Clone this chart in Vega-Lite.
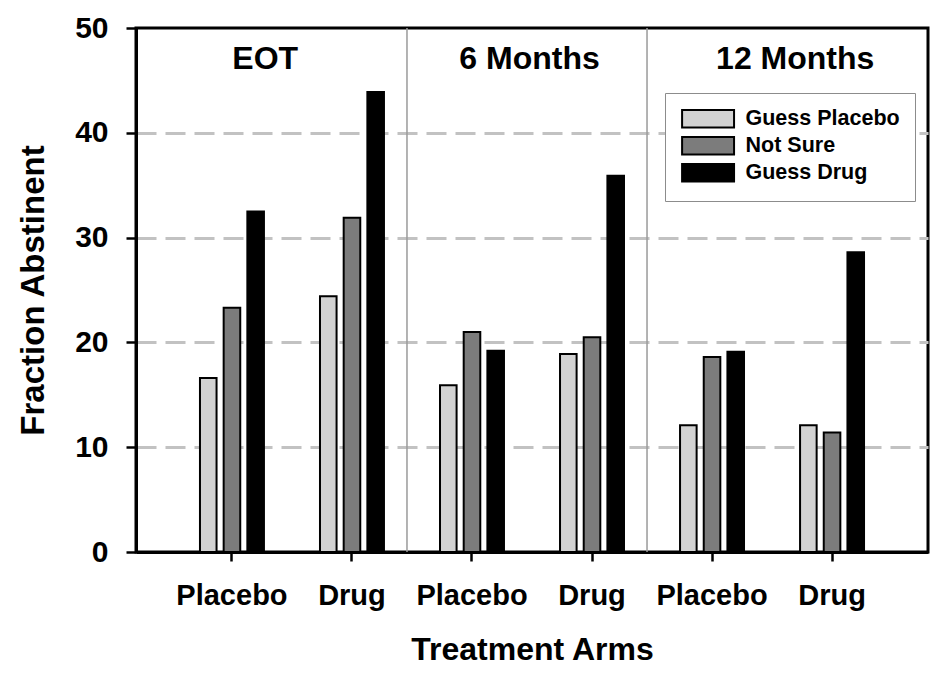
{
  "$schema": "https://vega.github.io/schema/vega-lite/v6.json",
  "width": 792,
  "height": 524,
  "autosize": {"type": "none"},
  "padding": {"left": 136, "top": 28, "right": 20, "bottom": 129},
  "background": "white",
  "config": {
    "view": {"stroke": "black", "strokeWidth": 3},
    "font": "Liberation Sans"
  },
  "data": {
    "values": [
      {"slot": "EOT|Placebo", "guess": "Guess Placebo", "value": 16.6},
      {"slot": "EOT|Placebo", "guess": "Not Sure", "value": 23.3},
      {"slot": "EOT|Placebo", "guess": "Guess Drug", "value": 32.5},
      {"slot": "EOT|Drug", "guess": "Guess Placebo", "value": 24.4},
      {"slot": "EOT|Drug", "guess": "Not Sure", "value": 31.9},
      {"slot": "EOT|Drug", "guess": "Guess Drug", "value": 43.9},
      {"slot": "6 Months|Placebo", "guess": "Guess Placebo", "value": 15.9},
      {"slot": "6 Months|Placebo", "guess": "Not Sure", "value": 21.0},
      {"slot": "6 Months|Placebo", "guess": "Guess Drug", "value": 19.2},
      {"slot": "6 Months|Drug", "guess": "Guess Placebo", "value": 18.9},
      {"slot": "6 Months|Drug", "guess": "Not Sure", "value": 20.5},
      {"slot": "6 Months|Drug", "guess": "Guess Drug", "value": 35.9},
      {"slot": "12 Months|Placebo", "guess": "Guess Placebo", "value": 12.1},
      {"slot": "12 Months|Placebo", "guess": "Not Sure", "value": 18.6},
      {"slot": "12 Months|Placebo", "guess": "Guess Drug", "value": 19.1},
      {"slot": "12 Months|Drug", "guess": "Guess Placebo", "value": 12.1},
      {"slot": "12 Months|Drug", "guess": "Not Sure", "value": 11.4},
      {"slot": "12 Months|Drug", "guess": "Guess Drug", "value": 28.6}
    ]
  },
  "layer": [
    {
      "mark": {"type": "bar", "stroke": "black", "strokeWidth": 2},
      "encoding": {
        "x": {
          "field": "slot",
          "type": "nominal",
          "scale": {
            "domain": ["EOT|Placebo", "EOT|Drug", "6 Months|Placebo", "6 Months|Drug", "12 Months|Placebo", "12 Months|Drug"],
            "paddingInner": 0.467,
            "paddingOuter": 0.533
          },
          "axis": {
            "title": "Treatment Arms",
            "labelExpr": "split(datum.label, '|')[1]",
            "labelAngle": 0,
            "labelFont": "Liberation Sans",
            "labelFontWeight": "bold",
            "labelFontSize": 29,
            "labelColor": "black",
            "labelPadding": 20,
            "tickSize": 9,
            "tickWidth": 2.5,
            "tickColor": "black",
            "domainColor": "black",
            "domainWidth": 3,
            "titleFont": "Liberation Sans",
            "titleFontWeight": "bold",
            "titleFontSize": 32,
            "titleColor": "black",
            "titlePadding": 24
          }
        },
        "xOffset": {
          "field": "guess",
          "type": "nominal",
          "sort": ["Guess Placebo", "Not Sure", "Guess Drug"],
          "scale": {"paddingInner": 0.3, "paddingOuter": 0}
        },
        "y": {
          "field": "value",
          "type": "quantitative",
          "scale": {"domain": [0, 50], "nice": false},
          "axis": {
            "title": "Fraction Abstinent",
            "values": [0, 10, 20, 30, 40, 50],
            "labelFont": "Liberation Sans",
            "labelFontWeight": "bold",
            "labelFontSize": 30,
            "labelColor": "black",
            "labelPadding": 18,
            "tickSize": 10,
            "tickWidth": 2.5,
            "tickColor": "black",
            "domainColor": "black",
            "domainWidth": 3,
            "grid": true,
            "gridColor": "#c2c2c2",
            "gridWidth": 3,
            "gridDash": [20, 9],
            "gridOpacity": {"condition": {"test": "datum.value == 0 || datum.value == 50", "value": 0}, "value": 1},
            "titleFont": "Liberation Sans",
            "titleFontWeight": "bold",
            "titleFontSize": 33,
            "titleColor": "black",
            "titlePadding": 24
          }
        },
        "color": {
          "field": "guess",
          "type": "nominal",
          "scale": {
            "domain": ["Guess Placebo", "Not Sure", "Guess Drug"],
            "range": ["#d2d2d2", "#7c7c7c", "#000000"]
          },
          "legend": {
            "title": null,
            "orient": "none",
            "legendX": 529,
            "legendY": 65,
            "symbolType": "M-1,-1L5,-1L5,1L-1,1Z",
            "symbolSize": 300,
            "symbolStrokeColor": "black",
            "symbolStrokeWidth": 2,
            "symbolOpacity": 1,
            "labelFont": "Liberation Sans",
            "labelFontWeight": "bold",
            "labelFontSize": 21.5,
            "labelColor": "black",
            "labelOffset": 44,
            "rowPadding": 1,
            "padding": 15,
            "strokeColor": "#8c8c8c",
            "fillColor": "white"
          }
        }
      }
    },
    {
      "data": {"values": [{"slot": "EOT|Drug"}, {"slot": "6 Months|Drug"}]},
      "mark": {"type": "rule", "color": "#9a9a9a", "strokeWidth": 1.5},
      "encoding": {
        "x": {"field": "slot", "type": "nominal", "bandPosition": 1.36}
      }
    },
    {
      "data": {"values": [{"slot": "EOT|Placebo", "label": "EOT"}]},
      "mark": {"type": "text", "font": "Liberation Sans", "fontWeight": "bold", "fontSize": 32, "baseline": "middle", "align": "center", "color": "black"},
      "encoding": {
        "x": {"field": "slot", "type": "nominal", "bandPosition": 1.02},
        "y": {"datum": 47, "type": "quantitative"},
        "text": {"field": "label"}
      }
    },
    {
      "data": {"values": [{"slot": "6 Months|Placebo", "label": "6 Months"}]},
      "mark": {"type": "text", "font": "Liberation Sans", "fontWeight": "bold", "fontSize": 32, "baseline": "middle", "align": "center", "color": "black"},
      "encoding": {
        "x": {"field": "slot", "type": "nominal", "bandPosition": 1.4},
        "y": {"datum": 47, "type": "quantitative"},
        "text": {"field": "label"}
      }
    },
    {
      "data": {"values": [{"slot": "12 Months|Placebo", "label": "12 Months"}]},
      "mark": {"type": "text", "font": "Liberation Sans", "fontWeight": "bold", "fontSize": 32, "baseline": "middle", "align": "center", "color": "black"},
      "encoding": {
        "x": {"field": "slot", "type": "nominal", "bandPosition": 1.8},
        "y": {"datum": 47, "type": "quantitative"},
        "text": {"field": "label"}
      }
    }
  ]
}
